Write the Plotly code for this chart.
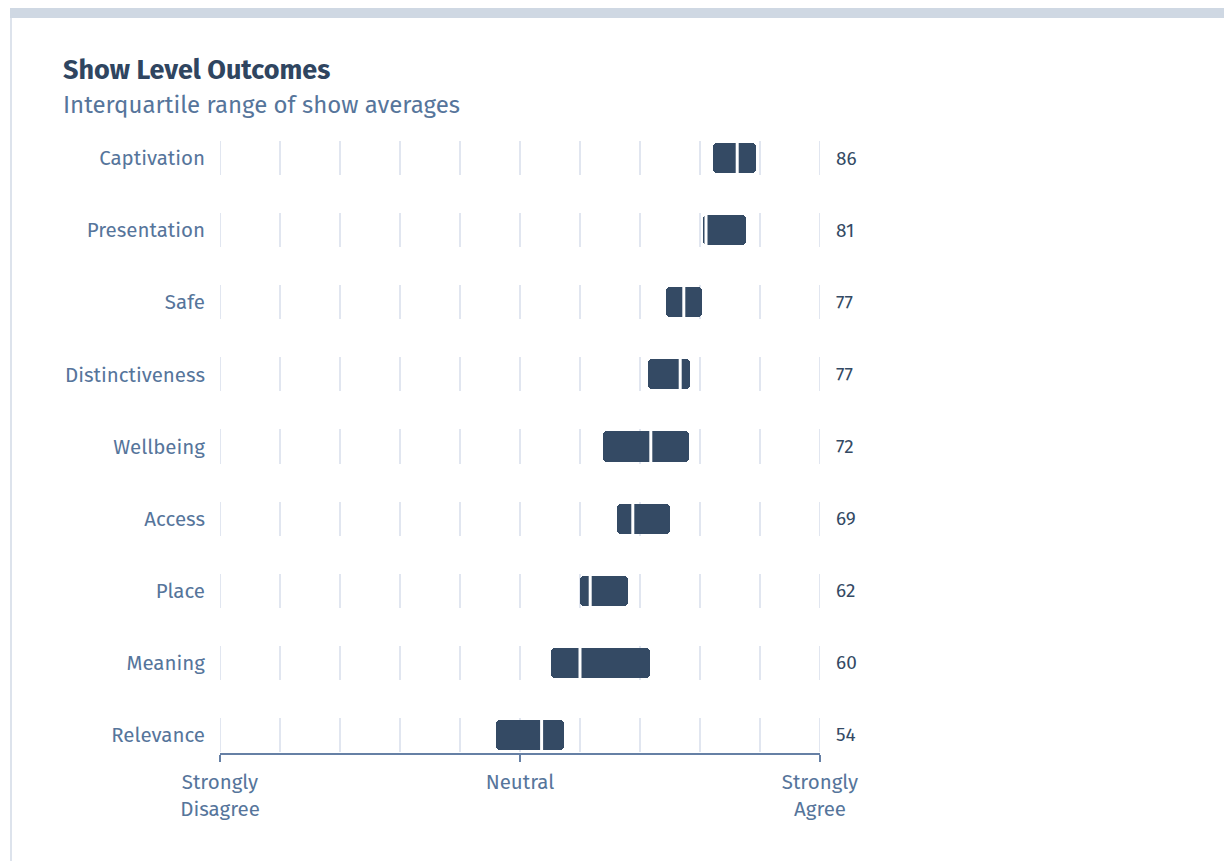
import plotly.graph_objects as go

# Survey outcome dimensions, bottom row first
categories = ["Relevance", "Meaning", "Place", "Access", "Wellbeing",
              "Distinctiveness", "Safe", "Presentation", "Captivation"]
q1 = [46.0, 55.2, 60.0, 66.1, 63.9, 71.4, 74.4, 80.5, 82.2]
q3 = [57.3, 71.7, 68.0, 75.0, 78.1, 78.4, 80.3, 87.7, 89.3]
median = [53.6, 60.0, 61.7, 68.8, 71.8, 76.7, 77.3, 81.0, 86.2]

tick_vals = [0, 50, 100]
tick_text = ["Strongly<br>Disagree", "Neutral", "Strongly<br>Agree"]
grid_steps = list(range(0, 101, 10))

W, H = 1224, 861
ML, MR, MT, MB = 220, 404, 122, 108
PW, PH = W - ML - MR, H - MT - MB


def px(x):
    return (x - ML) / PW


def py(y):
    return (H - MB - y) / PH


FONT = "Fira Sans, Noto Sans, sans-serif"
DARK = "#344a64"
MUTED = "#56759b"
GRID = "#e1e6f0"

rows = list(range(len(categories)))
unit_px = PW / 100  # pixels per score point

fig = go.Figure()

# short vertical guides on each row, as thin bars so the boxes cover them
gy, gbase = [], []
for r in rows:
    for g in grid_steps:
        gy.append(r)
        gbase.append(g - 1 / unit_px)
fig.add_trace(go.Bar(
    y=gy, x=[2 / unit_px] * len(gy), base=gbase,
    orientation="h", width=34 / 72,
    marker=dict(color=GRID, line=dict(width=0)),
    showlegend=False, hoverinfo="skip"))

# interquartile range boxes
fig.add_trace(go.Bar(
    y=rows, x=[b - a for a, b in zip(q1, q3)], base=q1,
    orientation="h", width=30 / 72,
    marker=dict(color=DARK, cornerradius=4, line=dict(width=0)),
    showlegend=False, hoverinfo="skip"))

# median ticks
fig.add_trace(go.Scatter(
    x=median, y=rows, mode="markers",
    marker=dict(symbol="line-ns", size=25,
                line=dict(color="white", width=3)),
    showlegend=False, hoverinfo="skip"))

shapes = [
    # card top band
    dict(type="rect", xref="paper", yref="paper",
         x0=px(10), x1=px(W + 5), y0=py(18), y1=py(8),
         fillcolor="#cfd8e3", line=dict(width=0), layer="below"),
    # card left edge
    dict(type="line", xref="paper", yref="paper",
         x0=px(11), x1=px(11), y0=py(18), y1=py(H + 5),
         line=dict(color="#dde3ec", width=2), layer="below"),
]

annotations = []
for r, m in zip(rows, median):
    annotations.append(dict(
        x=px(834), y=r, xref="paper", yref="y", text=f"{m:.0f}",
        showarrow=False, xanchor="left", yanchor="middle",
        font=dict(family=FONT, size=19, color=DARK)))

annotations.append(dict(
    x=px(61), y=py(70), xref="paper", yref="paper",
    text="<b>Show Level Outcomes</b>", showarrow=False,
    xanchor="left", yanchor="middle",
    font=dict(family=FONT, size=27, color="#2f4560")))
annotations.append(dict(
    x=px(61), y=py(105), xref="paper", yref="paper",
    text="Interquartile range of show averages", showarrow=False,
    xanchor="left", yanchor="middle",
    font=dict(family=FONT, size=24, color=MUTED)))

fig.update_layout(
    template="none",
    width=W, height=H,
    margin=dict(l=ML, r=MR, t=MT, b=MB),
    paper_bgcolor="white", plot_bgcolor="white",
    barmode="overlay", bargap=0,
    annotations=annotations, shapes=shapes,
    font=dict(family=FONT, color=MUTED, size=20),
    xaxis=dict(range=[0, 100], showgrid=False, zeroline=False,
               showline=True, linecolor="#6680a5", linewidth=1.5,
               ticks="outside", ticklen=7, tickwidth=1.5,
               tickcolor="#6680a5",
               tickvals=tick_vals, ticktext=tick_text,
               ticklabelstandoff=3,
               tickfont=dict(family=FONT, size=20.5, color=MUTED),
               fixedrange=True),
    yaxis=dict(range=[-0.25, 8.5], showgrid=False, zeroline=False,
               showline=False, ticks="",
               tickvals=rows, ticktext=categories,
               ticklabelstandoff=14,
               tickfont=dict(family=FONT, size=20.5, color=MUTED),
               fixedrange=True),
)

fig.write_html("out.html")
